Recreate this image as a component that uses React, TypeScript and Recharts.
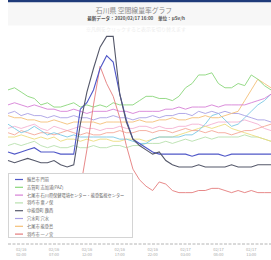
import React from "react";
import { LineChart, Line, XAxis, YAxis, Legend } from "recharts";

// hourly time stamps (categories)
const times: string[] = [];
for (let h = 0; h < 41; h++) {
  const day = h < 24 ? "02/16" : "02/17";
  const hh = String(h % 24).padStart(2, "0");
  times.push(`${day} ${hh}:00`);
}
const tickIndexes = [2, 7, 12, 17, 22, 27, 32, 37];

const seriesNames = [
  "輪島市 門前",
  "志賀町 志加浦(PAZ)",
  "七尾市 石川県保健環境センター・能登監視センター",
  "羽咋市 粟ノ保",
  "中能登町 鹿西",
  "穴水町 穴水",
  "七尾市 能登島",
  "羽咋市 一ノ宮",
  "珠洲市 正院",
  "志賀町 富来",
  "宝達志水町 宝達",
  "能登町 宇出津",
];
const seriesColors = [
  "#5058c8", "#8ad67a", "#d680d6", "#b8e0ae", "#55586a", "#a9a0e4",
  "#f4c078", "#e47c7c", "#7cc8e4", "#f4b2d2", "#ecdc80", "#f4a898",
];

// μSv/h
const s1 = [.043,.042,.043,.044,.045,.043,.043,.043,.042,.042,.042,.063,.066,.072,.082,.088,.085,.070,.058,.049,.047,.045,.043,.042,.042,.042,.042,.042,.041,.042,.042,.042,.042,.041,.042,.042,.042,.042,.042,.042,.042];
const s2 = [.072,.073,.071,.069,.068,.065,.066,.064,.064,.065,.066,.064,.065,.064,.065,.064,.066,.065,.065,.065,.067,.069,.069,.068,.068,.067,.069,.073,.075,.079,.079,.080,.075,.073,.073,.075,.074,.079,.077,.074,.072];
const s3 = [.065,.066,.065,.064,.065,.064,.063,.063,.062,.062,.063,.062,.061,.062,.062,.062,.063,.062,.062,.061,.062,.062,.062,.062,.063,.063,.064,.063,.064,.064,.064,.065,.064,.065,.065,.065,.065,.066,.067,.068,.070];
const s4 = [.046,.047,.046,.047,.048,.046,.045,.046,.045,.045,.046,.045,.045,.046,.045,.045,.046,.046,.045,.046,.046,.047,.047,.047,.048,.047,.048,.049,.048,.049,.050,.049,.050,.050,.050,.050,.051,.050,.050,.049,.048];
const s5 = [.039,.038,.039,.040,.039,.038,.038,.039,.037,.036,.037,.056,.071,.082,.092,.097,.097,.070,.057,.049,.046,.044,.042,.043,.039,.037,.036,.036,.036,.037,.036,.036,.036,.036,.037,.036,.036,.036,.037,.037,.037];
const s6 = [.061,.062,.060,.061,.060,.060,.059,.060,.059,.059,.060,.059,.059,.058,.059,.059,.060,.059,.059,.058,.059,.059,.060,.059,.060,.060,.061,.061,.060,.062,.061,.062,.061,.062,.061,.061,.060,.059,.058,.058,.057];
const s7 = [.060,.059,.059,.058,.058,.057,.057,.058,.057,.056,.057,.057,.057,.057,.056,.057,.057,.057,.057,.057,.058,.057,.057,.058,.058,.059,.058,.058,.059,.059,.060,.059,.059,.060,.061,.062,.067,.072,.077,.075,.073];
const s8 = [.026,.026,.027,.026,.026,.025,.026,.026,.027,.026,.026,.026,.044,.065,.083,.075,.069,.059,.046,.035,.030,.027,.025,.029,.028,.025,.024,.024,.024,.025,.025,.026,.026,.025,.024,.025,.024,.025,.024,.024,.024];
const s9 = [.056,.054,.052,.053,.055,.053,.051,.052,.051,.050,.051,.050,.050,.050,.050,.050,.050,.049,.049,.048,.047,.047,.049,.050,.050,.050,.050,.051,.051,.053,.056,.060,.061,.058,.055,.056,.059,.062,.065,.067,.070];
const s10 = [.054,.055,.054,.055,.056,.054,.053,.055,.054,.053,.054,.055,.054,.054,.053,.054,.054,.055,.054,.054,.055,.055,.054,.055,.054,.054,.055,.055,.056,.056,.055,.056,.057,.057,.057,.057,.058,.057,.056,.054,.053];
const s11 = [.050,.050,.051,.050,.049,.050,.049,.050,.048,.049,.049,.048,.049,.048,.049,.049,.048,.048,.049,.049,.049,.048,.049,.050,.050,.050,.051,.052,.053,.054,.055,.054,.055,.056,.054,.053,.052,.051,.050,.049,.048];
const s12 = [.052,.051,.053,.052,.051,.052,.052,.051,.052,.053,.052,.051,.052,.051,.051,.052,.052,.053,.052,.052,.053,.053,.052,.053,.053,.052,.053,.054,.053,.053,.052,.053,.052,.052,.051,.052,.053,.053,.054,.055,.056];

const seriesValues = [s1, s2, s3, s4, s5, s6, s7, s8, s9, s10, s11, s12];
// draw order: light lines first, peaked lines on top
const drawOrder = [3, 9, 10, 11, 8, 5, 6, 2, 1, 7, 0, 4];

const data = times.map((t, i) => {
  const row: Record<string, number | string> = { i, t };
  seriesValues.forEach((arr, k) => (row[`s${k + 1}`] = arr[i]));
  return row;
});

const FONT = "'Noto Sans CJK JP', 'Noto Sans', sans-serif";

const TimeTick = (props: any) => {
  const { x, y, payload } = props;
  const label = times[payload.value] || "";
  const [d, h] = label.split(" ");
  return (
    <g>
      <text x={x} y={y + 6.5} textAnchor="middle" fontSize={4} fill="#aaa" fontFamily={FONT}>{d}</text>
      <text x={x} y={y + 11.5} textAnchor="middle" fontSize={4} fill="#aaa" fontFamily={FONT}>{h}</text>
    </g>
  );
};

const LegendBox = () => (
  <svg width={125} height={65} style={{ display: "block" }}>
    <rect x={0.5} y={0.5} width={124} height={64} fill="#fff" stroke="#d4d4d4" strokeWidth={1} />
    {seriesNames.slice(0, 8).map((n, k) => (
      <g key={n}>
        <line x1={7} x2={15} y1={6.5 + k * 7.8} y2={6.5 + k * 7.8} stroke={seriesColors[k]} strokeWidth={1.2} />
        <text x={19} y={8 + k * 7.8} fontSize={4.2} fill="#666" fontFamily={FONT}>{n}</text>
      </g>
    ))}
  </svg>
);

export default function App() {
  return (
    <div style={{ position: "absolute", left: 0, top: 0, width: 271, height: 260, background: "#fff", overflow: "hidden" }}>
      <svg width={271} height={40} style={{ position: "absolute", left: 0, top: 0 }}>
        <rect x={8} y={0} width={263} height={2.5} fill="#1f3b7a" />
        <rect x={8} y={2.5} width={263} height={23} fill="#f7f7f7" />
        <text x={134} y={12.5} textAnchor="middle" fontSize={6.8} fill="#8a8a8a" fontFamily={FONT}>石川県 空間線量率グラフ</text>
        <text x={136} y={20} textAnchor="middle" fontSize={4.6} fill="#555" fontWeight="bold" fontFamily={FONT}>最新データ：2020/02/17 16:00　単位：μSv/h</text>
        <text x={136} y={31} textAnchor="middle" fontSize={5} fill="#ececec" fontFamily={FONT}>※凡例をクリックすると表示を切り替えます</text>
      </svg>
      <div style={{ position: "absolute", left: 0, top: 0 }}>
        <LineChart width={271} height={260} data={data} margin={{ top: 30, right: 0, left: 8, bottom: 0 }}>
          <XAxis
            dataKey="i"
            type="number"
            domain={[0, 40]}
            ticks={tickIndexes}
            tick={<TimeTick />}
            tickLine={false}
            tickSize={0}
            tickMargin={0}
            height={16}
            axisLine={{ stroke: "#b4b4b4", strokeDasharray: "3 1.5" }}
            interval={0}
          />
          <YAxis hide domain={[0, 0.1]} />
          {drawOrder.map((k) => (
            <Line
              key={k}
              type="linear"
              dataKey={`s${k + 1}`}
              name={seriesNames[k]}
              stroke={seriesColors[k]}
              strokeWidth={k === 4 || k === 0 ? 1.1 : 0.9}
              dot={false}
              isAnimationActive={false}
            />
          ))}
          <Legend
            layout="vertical"
            align="center"
            verticalAlign="middle"
            content={() => <LegendBox />}
            wrapperStyle={{ left: 8, top: 173, width: 125, height: 65 }}
          />
        </LineChart>
      </div>
    </div>
  );
}
